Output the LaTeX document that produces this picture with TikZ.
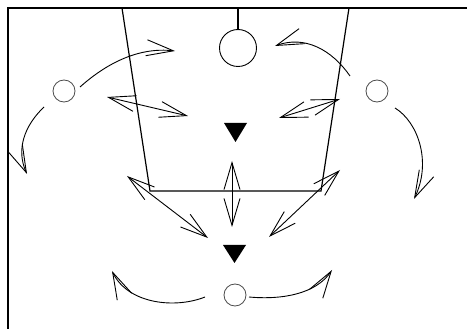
\documentclass[tikz,border=0pt]{standalone}
\usetikzlibrary{arrows.meta}
\begin{document}
\begin{tikzpicture}[x=1pt,y=-1pt,
  frameline/.style={line width=2pt},
  laneline/.style={line width=1.2pt},
  tipv/.tip={Straight Barb[length=27pt,width=16pt,line width=0.9pt]},
  mv/.style={line width=0.9pt,-tipv},
  dmv/.style={line width=0.9pt,tipv-tipv},
  player/.style={circle,draw=black!70,line width=0.8pt,minimum size=22pt,inner sep=0pt},
  defender/.style={fill=black,draw=none}]
\useasboundingbox (0,0) rectangle (467,329);
% frame
\draw[frameline] (8,329) -- (8,8) -- (467,8);
% lane
\coordinate (lt) at (122,8);
\coordinate (lb) at (150,191);
\coordinate (rt) at (349,8);
\coordinate (rb) at (321,191);
\draw[laneline] (lt) -- (lb) -- (rb) -- (rt);
% basket
\node[circle,draw,line width=0.9pt,minimum size=37pt,inner sep=0pt] (bask) at (238,48) {};
\coordinate (stem) at (238,8);
\draw[line width=1.2pt] (stem) -- (bask.north);
% defenders
\fill[defender] (224,123) -- (247,123) -- (235.5,142) -- cycle;
\fill[defender] (223,245) -- (246,245) -- (234.5,263) -- cycle;
% players
\node[player] (pl) at (64,91) {};
\node[player] (pr) at (377,91) {};
\node[player] (pb) at (235,295) {};
% move arrows
\coordinate (a1s) at (80,87);   \coordinate (a1e) at (175,51);
\draw[mv] (a1s) .. controls (108,62) and (140,47) .. (a1e);
\coordinate (a2s) at (44,107);  \coordinate (a2e) at (27,174);
\draw[mv] (a2s) .. controls (24,126) and (16,150) .. (a2e);
\coordinate (a4s) at (350,76);  \coordinate (a4e) at (275,46);
\draw[mv] (a4s) .. controls (332,50) and (305,35) .. (a4e);
\coordinate (a6s) at (395,108); \coordinate (a6e) at (414,199);
\draw[mv] (a6s) .. controls (418,122) and (432,162) .. (a6e);
\coordinate (a9s) at (205,297); \coordinate (a9e) at (112,271);
\draw[mv] (a9s) .. controls (175,309) and (128,304) .. (a9e);
\coordinate (a10s) at (249,297); \coordinate (a10e) at (332,270);
\draw[mv] (a10s) .. controls (282,300) and (316,294) .. (a10e);
% double arrows
\coordinate (d1a) at (107,97);  \coordinate (d1b) at (188,116);
\draw[dmv] (d1a) -- (d1b);
\coordinate (d2a) at (340,99);  \coordinate (d2b) at (279,118);
\draw[dmv] (d2a) -- (d2b);
\coordinate (d3a) at (232,161); \coordinate (d3b) at (232,227);
\draw[dmv] (d3a) -- (d3b);
\coordinate (d4a) at (127,176); \coordinate (d4b) at (208,238);
\draw[dmv] (d4a) -- (d4b);
\coordinate (d5a) at (340,170); \coordinate (d5b) at (269,237);
\draw[dmv] (d5a) -- (d5b);
\end{tikzpicture}
\end{document}
